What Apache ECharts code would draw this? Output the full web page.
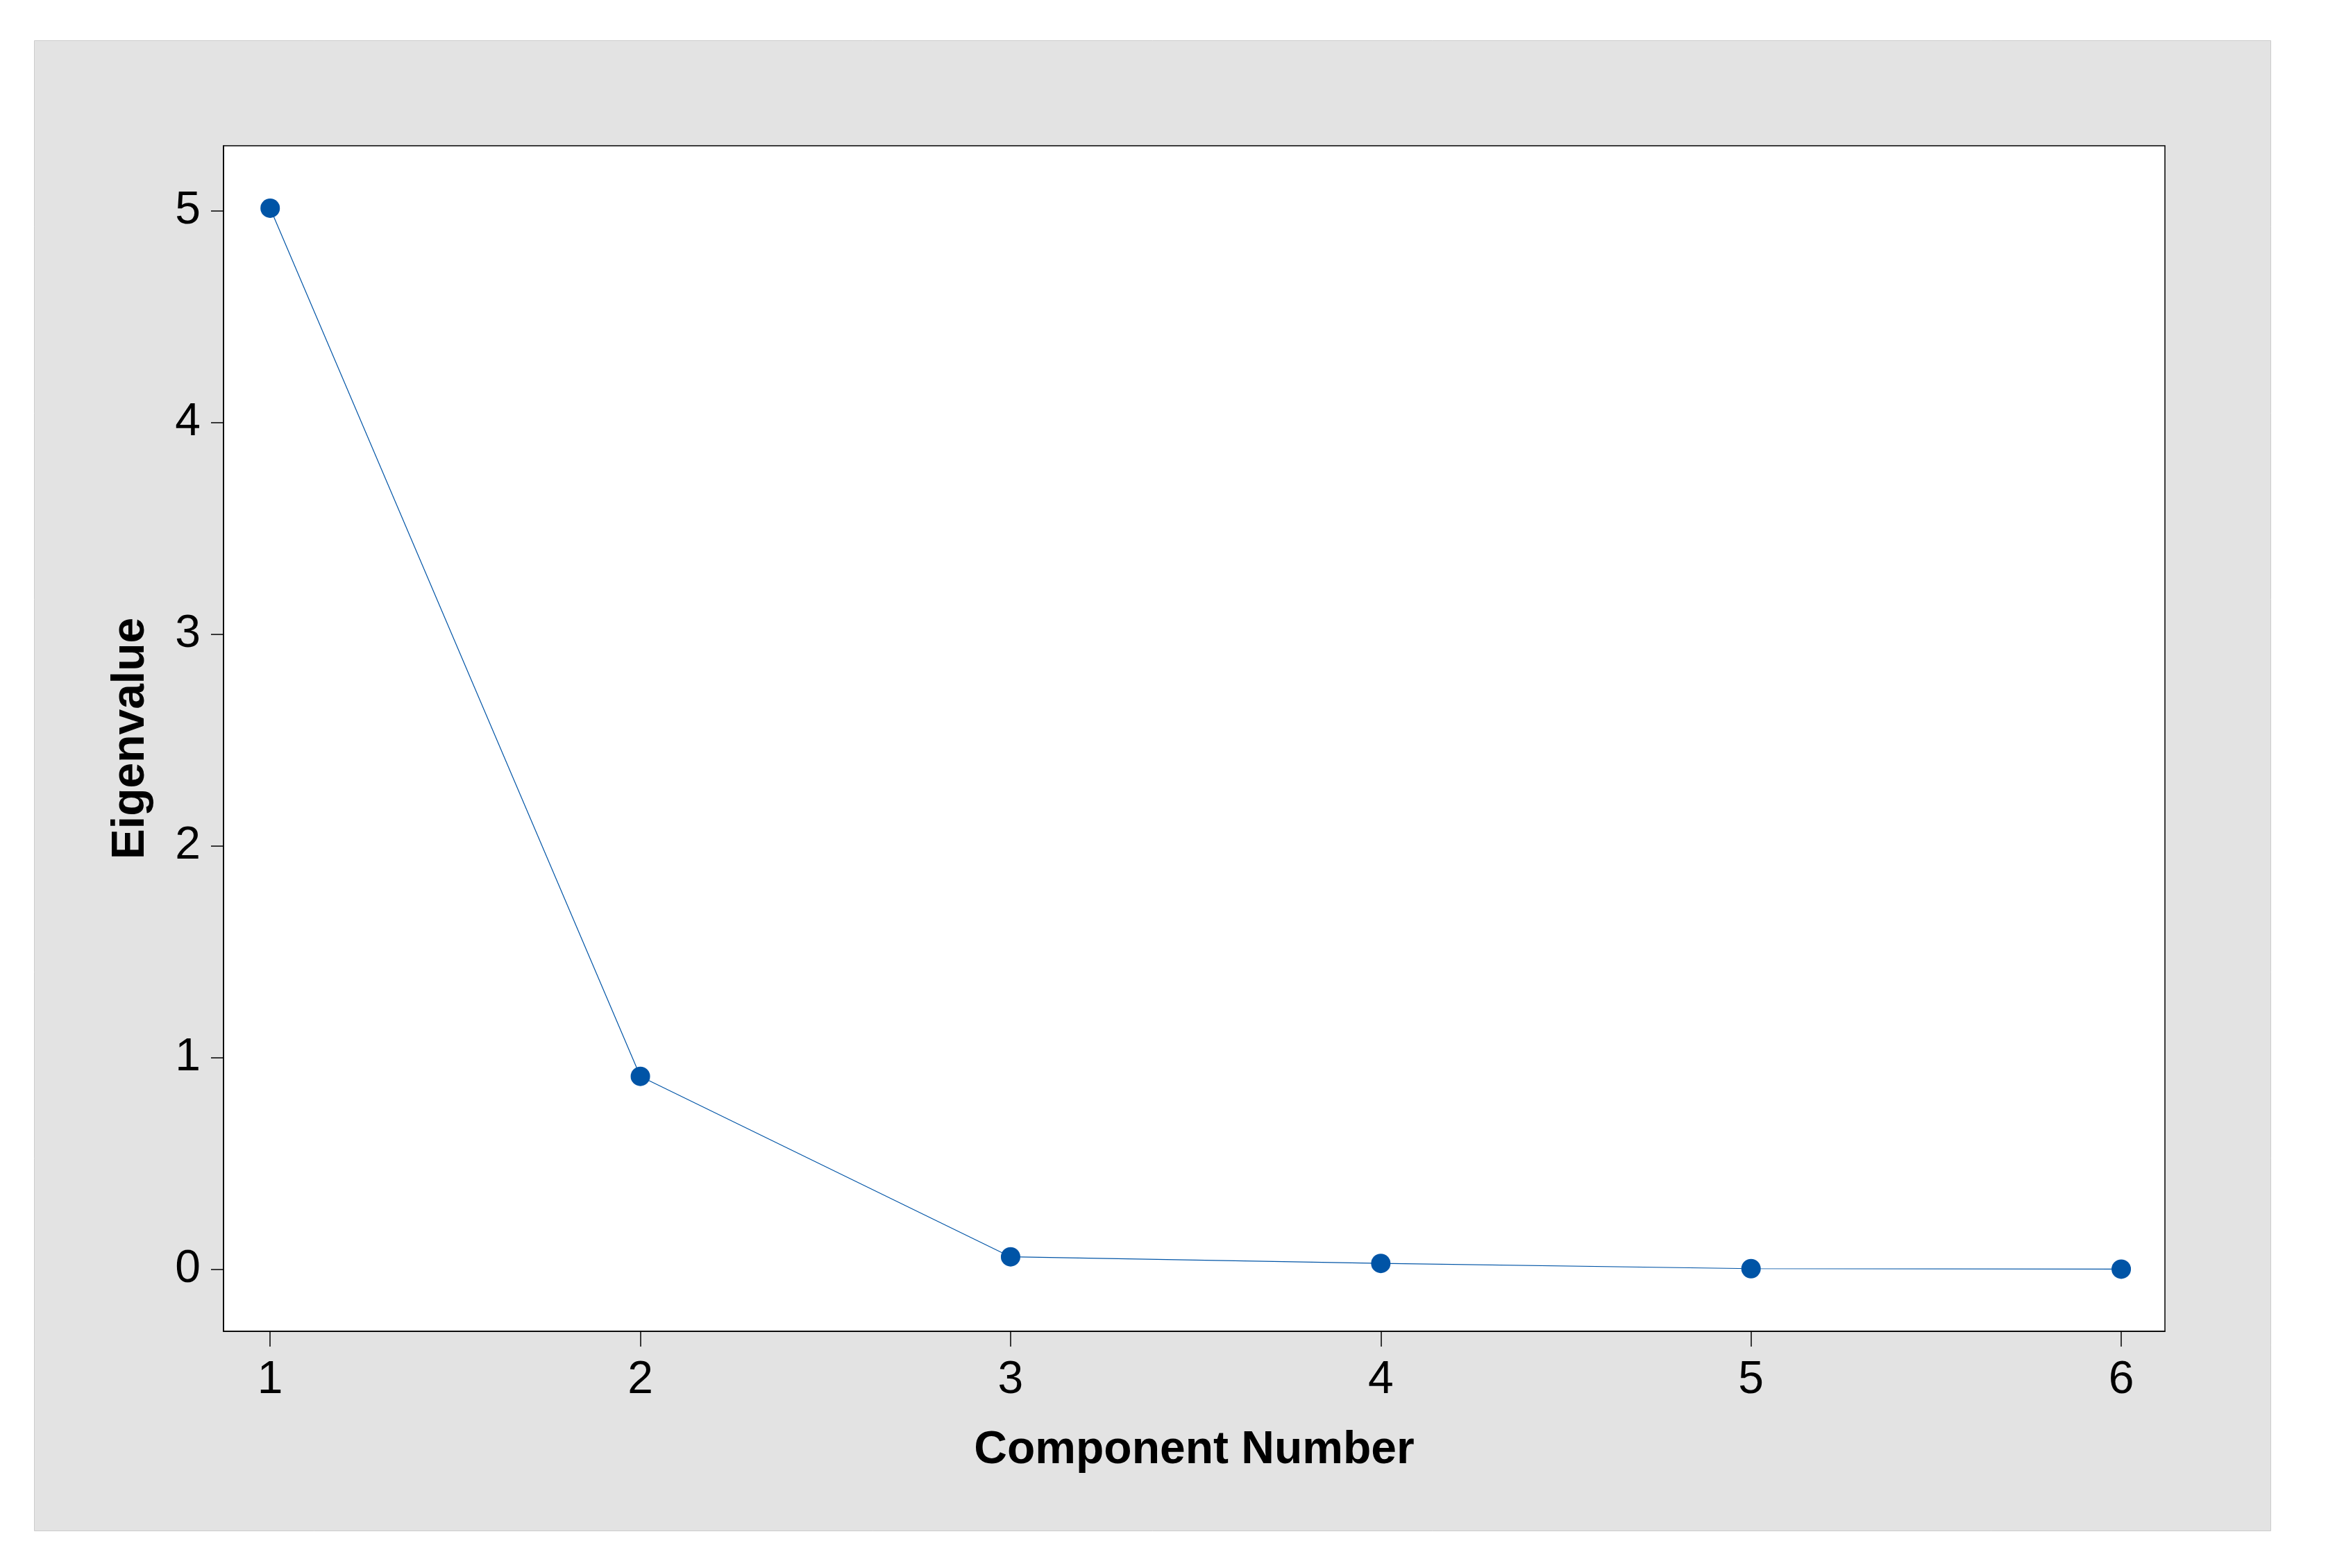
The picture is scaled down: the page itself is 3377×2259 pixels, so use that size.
<!DOCTYPE html>
<html>
<head>
<meta charset="utf-8">
<script src="https://cdn.jsdelivr.net/npm/echarts@6/dist/echarts.min.js"></script>
<style>
html,body{margin:0;padding:0;background:#ffffff;}
#chart{width:3377px;height:2259px;}
</style>
</head>
<body>
<div id="chart"></div>
<script>
const components = [1, 2, 3, 4, 5, 6];
const eigenvalues = [5.014, 0.911, 0.058, 0.027, 0.002, 0.0];
const xTicks = [1, 2, 3, 4, 5, 6];
const yTicks = [0, 1, 2, 3, 4, 5];
const xTitle = 'Component Number';
const yTitle = 'Eigenvalue';

const FONT = '"Liberation Sans", Arial, sans-serif';
const chart = echarts.init(document.getElementById('chart'), null, {renderer: 'canvas'});
const option = {
  backgroundColor: '#ffffff',
  animation: false,
  graphic: [{
    type: 'rect', z: -10, silent: true,
    shape: {x: 49.5, y: 58.5, width: 3222, height: 2147},
    style: {fill: '#e3e3e3', stroke: '#cccccc', lineWidth: 1}
  }],
  grid: {
    left: 322, right: 258, top: 210, bottom: 341,
    show: true, backgroundColor: '#ffffff', borderColor: '#000000', borderWidth: 1.5
  },
  xAxis: {
    type: 'value', min: 0.874, max: 6.118,
    name: xTitle, nameLocation: 'middle', nameGap: 139,
    nameTextStyle: {fontFamily: FONT, fontWeight: 'bold', fontSize: 66, color: '#000'},
    axisLine: {show: true, onZero: false, lineStyle: {color: '#000', width: 1.5}},
    axisTick: {show: true, length: 22, customValues: xTicks, lineStyle: {color: '#000', width: 1.5}},
    axisLabel: {customValues: xTicks, margin: 38, fontFamily: FONT, fontSize: 66, color: '#000'},
    splitLine: {show: false}
  },
  yAxis: {
    type: 'value', min: -0.294, max: 5.309,
    name: yTitle, nameLocation: 'middle', nameGap: 100, nameRotate: 90,
    nameTextStyle: {fontFamily: FONT, fontWeight: 'bold', fontSize: 66, color: '#000'},
    axisLine: {show: true, onZero: false, lineStyle: {color: '#000', width: 1.5}},
    axisTick: {show: true, length: 18, customValues: yTicks, lineStyle: {color: '#000', width: 1.5}},
    axisLabel: {customValues: yTicks, margin: 33, fontFamily: FONT, fontSize: 66, color: '#000'},
    splitLine: {show: false}
  },
  series: [{
    type: 'line',
    data: components.map((c, i) => [c, eigenvalues[i]]),
    symbol: 'circle', symbolSize: 28,
    itemStyle: {color: '#0054a6'},
    lineStyle: {color: '#0054a6', width: 1.2},
    z: 5
  }]
};
chart.setOption(option);
</script>
</body>
</html>
